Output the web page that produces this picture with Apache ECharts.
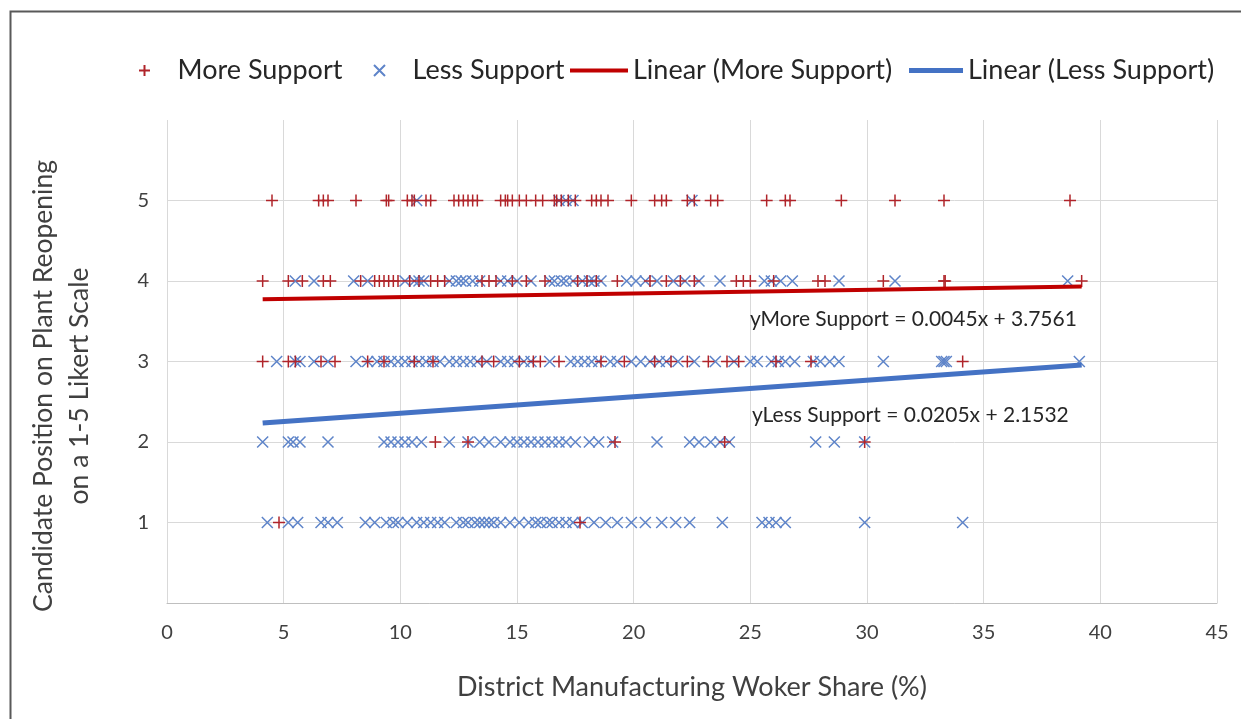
<!DOCTYPE html>
<html>
<head>
<meta charset="utf-8">
<script src="https://cdn.jsdelivr.net/npm/echarts@6/dist/echarts.min.js"></script>
<style>html,body{margin:0;padding:0;background:#fff;}#c{width:1241px;height:719px;}</style>
</head>
<body>
<div id="c"></div>
<script>
// ---- data (x = district manufacturing worker share %, grouped by Likert level) ----
var likertLevels = [5, 4, 3, 2, 1];
var moreX5 = [4.5, 6.5, 6.7, 6.9, 8.1, 9.4, 9.5, 10.3, 10.5, 10.6, 11.1, 11.3, 12.3, 12.5, 12.7, 12.9, 13.1, 13.3, 14.3, 14.5, 14.6, 14.8, 15.1, 15.4, 15.8, 16.1, 16.6, 16.7, 16.9, 17.2, 17.5, 18.2, 18.4, 18.6, 18.9, 19.9, 20.9, 21.2, 21.4, 22.3, 22.6, 23.3, 23.6, 25.7, 26.5, 26.7, 28.9, 31.2, 33.3, 38.7];
var moreX4 = [4.1, 5.2, 5.8, 6.7, 7.0, 8.3, 8.9, 9.1, 9.3, 9.5, 9.7, 9.9, 10.4, 10.8, 11.3, 11.6, 11.9, 13.5, 13.8, 14.1, 14.8, 15.4, 16.2, 17.6, 18.0, 18.4, 19.3, 20.7, 21.4, 22.0, 22.6, 24.4, 24.7, 25.0, 26.0, 27.9, 28.2, 30.7, 33.3, 33.35, 39.2];
var moreX3 = [4.1, 5.2, 5.5, 6.6, 7.2, 8.6, 9.3, 10.6, 11.4, 13.5, 14.0, 15.1, 15.7, 16.0, 16.8, 18.6, 19.6, 20.9, 21.6, 22.3, 23.2, 24.0, 24.5, 26.1, 27.6, 34.1];
var moreX2 = [11.5, 12.9, 19.2, 23.9, 29.9];
var moreX1 = [4.8, 17.7];
var lessX5 = [10.7, 16.8, 17.1, 17.4, 22.5];
var lessX4 = [5.5, 6.3, 8.0, 8.6, 10.2, 10.6, 10.8, 11.0, 12.1, 12.4, 12.6, 12.8, 13.1, 13.4, 14.3, 14.6, 15.0, 15.6, 16.4, 16.6, 16.9, 17.1, 17.4, 17.8, 18.1, 18.3, 18.6, 19.7, 20.1, 20.5, 21.0, 21.7, 22.2, 22.8, 23.7, 25.6, 25.9, 26.3, 26.8, 28.8, 31.2, 38.6];
var lessX3 = [4.7, 5.5, 5.7, 6.3, 6.9, 8.1, 8.6, 9.0, 9.3, 9.6, 9.9, 10.2, 10.5, 10.8, 11.1, 11.4, 11.7, 12.1, 12.4, 12.7, 13.0, 13.3, 13.7, 14.3, 14.6, 14.9, 15.3, 15.6, 16.4, 17.3, 17.6, 17.9, 18.2, 18.5, 19.0, 19.3, 19.9, 20.3, 20.7, 21.1, 21.4, 21.9, 22.6, 23.5, 24.3, 25.0, 25.3, 25.9, 26.2, 26.5, 26.9, 27.7, 28.0, 28.4, 28.8, 30.7, 33.2, 33.3, 33.4, 39.1];
var lessX2 = [4.1, 5.2, 5.4, 5.7, 6.9, 9.3, 9.6, 9.9, 10.2, 10.5, 10.9, 12.1, 12.9, 13.4, 13.8, 14.3, 14.7, 15.0, 15.3, 15.6, 15.9, 16.2, 16.5, 16.8, 17.1, 17.5, 18.1, 18.5, 19.1, 21.0, 22.4, 22.8, 23.3, 23.7, 24.1, 27.8, 28.6, 29.9];
var lessX1 = [4.3, 5.2, 5.6, 6.6, 6.9, 7.3, 8.5, 8.9, 9.4, 9.7, 9.9, 10.3, 10.7, 11.0, 11.3, 11.6, 11.9, 12.4, 12.7, 12.9, 13.2, 13.4, 13.6, 13.8, 14.0, 14.3, 14.7, 15.1, 15.5, 15.8, 16.0, 16.3, 16.5, 16.8, 17.1, 17.4, 17.8, 18.3, 18.8, 19.3, 19.9, 20.5, 21.2, 21.8, 22.4, 23.8, 25.5, 25.8, 26.1, 26.5, 29.9, 34.1];
// trendline coefficients [slope, intercept] and x extent
var moreTrend = [0.0045, 3.7561];
var lessTrend = [0.0205, 2.1532];
var trendRange = [4.1, 39.2];
var xTicks = [0, 5, 10, 15, 20, 25, 30, 35, 40, 45];
var yTicks = [1, 2, 3, 4, 5];
var eqMore = 'yMore Support = 0.0045x + 3.7561';
var eqLess = 'yLess Support = 0.0205x + 2.1532';
var yTitle = 'Candidate Position on Plant Reopening\non a 1-5 Likert Scale';
var xTitle = 'District Manufacturing Woker Share (%)';

function pts(groups) {
  var out = [];
  groups.forEach(function (g, i) {
    g.forEach(function (x) { out.push([x, likertLevels[i]]); });
  });
  return out;
}
function trend(c) {
  return [[trendRange[0], c[0] * trendRange[0] + c[1]], [trendRange[1], c[0] * trendRange[1] + c[1]]];
}
var moreData = pts([moreX5, moreX4, moreX3, moreX2, moreX1]);
var lessData = pts([lessX5, lessX4, lessX3, lessX2, lessX1]);

var FONT = 'Lato';
var plusPath = 'path://M5,0L5,10M0,5L10,5';
var crossPath = 'path://M0,0L10,10M10,0L0,10';
var RED_MK = '#B0242A', BLUE_MK = '#5E84C9', RED_LN = '#C00000', BLUE_LN = '#4472C4';
var gridColors = ['#D9D9D9', '#D9D9D9', '#D9D9D9', '#D9D9D9', '#D9D9D9', '#D9D9D9', 'rgba(0,0,0,0)'];

var chart = echarts.init(document.getElementById('c'), null, { renderer: 'canvas' });
var legText = { fontFamily: FONT, fontSize: 27, color: '#262626' };
chart.setOption({
  backgroundColor: '#ffffff',
  animation: false,
  legend: [
    { data: ['More Support'], left: 138, top: 57, padding: 0, itemWidth: 56, itemHeight: 11, textStyle: legText },
    { data: ['Less Support'], left: 373, top: 57, padding: 0, itemWidth: 56, itemHeight: 11, textStyle: legText },
    { data: ['Linear (More Support)'], icon: 'rect', left: 570, top: 57, padding: 0, itemWidth: 58, itemHeight: 4, textStyle: legText },
    { data: ['Linear (Less Support)'], icon: 'rect', left: 909, top: 57, padding: 0, itemWidth: 54, itemHeight: 5, textStyle: legText }
  ],
  grid: { left: 167, right: 24, top: 120, bottom: 116, containLabel: false },
  xAxis: {
    type: 'value', min: 0, max: 45, interval: 5,
    name: xTitle, nameLocation: 'middle', nameGap: 71,
    nameTextStyle: { fontFamily: FONT, fontSize: 27, color: '#404040' },
    axisLine: { show: true, lineStyle: { color: '#BFBFBF', width: 1 } },
    axisTick: { show: false },
    axisLabel: { margin: 20, fontFamily: FONT, fontSize: 20, color: '#404040',
      formatter: function (v) { return xTicks.indexOf(v) >= 0 ? String(v) : ''; } },
    splitLine: { show: true, lineStyle: { color: '#D9D9D9', width: 1 } }
  },
  yAxis: {
    type: 'value', min: 0, max: 6, interval: 1,
    axisLine: { show: false }, axisTick: { show: false },
    axisLabel: { margin: 18, fontFamily: FONT, fontSize: 20, color: '#404040',
      formatter: function (v) { return yTicks.indexOf(v) >= 0 ? String(v) : ''; } },
    splitLine: { show: true, lineStyle: { color: gridColors, width: 1 } }
  },
  series: [
    { name: 'More Support', type: 'scatter', data: moreData, symbol: plusPath, symbolSize: 12, symbolKeepAspect: true, z: 3,
      itemStyle: { color: 'rgba(0,0,0,0)', borderColor: RED_MK, borderWidth: 1.5, opacity: 1 } },
    { name: 'Less Support', type: 'scatter', data: lessData, symbol: crossPath, symbolSize: 11, symbolKeepAspect: true, z: 2,
      itemStyle: { color: 'rgba(0,0,0,0)', borderColor: BLUE_MK, borderWidth: 1.5, opacity: 1 } },
    { name: 'Linear (More Support)', type: 'line', data: trend(moreTrend), symbol: 'none', showSymbol: false, z: 4,
      lineStyle: { color: RED_LN, width: 4 }, itemStyle: { color: RED_LN } },
    { name: 'Linear (Less Support)', type: 'line', data: trend(lessTrend), symbol: 'none', showSymbol: false, z: 4,
      lineStyle: { color: BLUE_LN, width: 5 }, itemStyle: { color: BLUE_LN } }
  ],
  graphic: [
    { type: 'rect', left: 8, top: 9, z: -1, silent: true, shape: { width: 1300, height: 800 },
      style: { fill: 'none', stroke: '#595959', lineWidth: 2 } },
    { type: 'text', x: 61, y: 386, rotation: Math.PI / 2, z: 100,
      style: { text: yTitle, fontFamily: FONT, fontSize: 26.5, lineHeight: 36, fill: '#404040', align: 'center', verticalAlign: 'middle' } },
    { type: 'text', left: 750, top: 309, z: 100, style: { text: eqMore, fontFamily: FONT, fontSize: 21, fill: '#262626' } },
    { type: 'text', left: 752, top: 405, z: 100, style: { text: eqLess, fontFamily: FONT, fontSize: 21, fill: '#262626' } }
  ]
});
</script>
</body>
</html>
